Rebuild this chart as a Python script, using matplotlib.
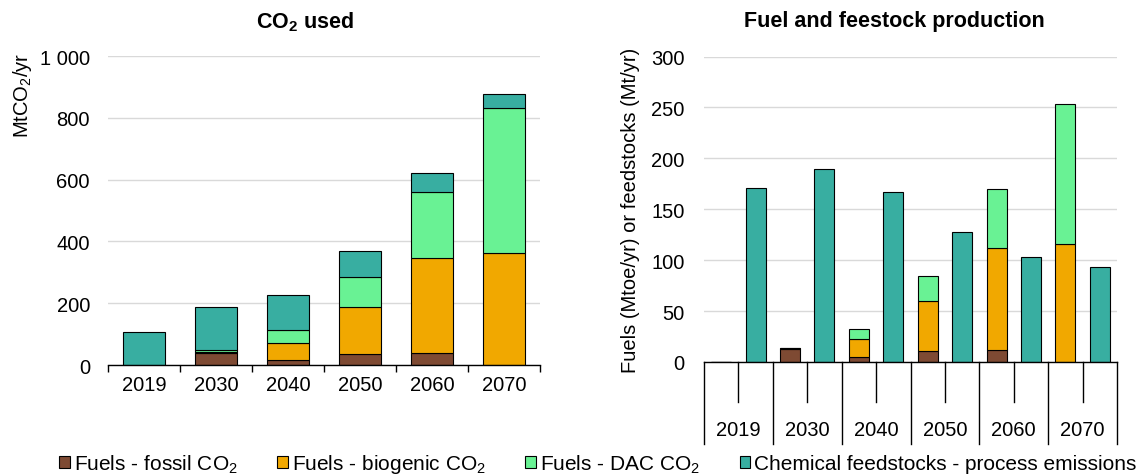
import matplotlib
matplotlib.use("Agg")
import matplotlib.pyplot as plt
from matplotlib.patches import Patch
from matplotlib.ticker import FuncFormatter, FixedLocator
import numpy as np

plt.rcParams["font.family"] = ["Liberation Sans", "DejaVu Sans"]
plt.rcParams["mathtext.fontset"] = "custom"
plt.rcParams["mathtext.rm"] = "Liberation Sans"
plt.rcParams["mathtext.it"] = "Liberation Sans"
plt.rcParams["mathtext.bf"] = "Liberation Sans:bold"
plt.rcParams["mathtext.default"] = "regular"

FS = 14.5

years = ["2019", "2030", "2040", "2050", "2060", "2070"]

# CO2 used (MtCO2/yr)
co2_fossil = [0, 38, 15, 35, 38, 0]
co2_biogenic = [0, 4, 56, 153, 307, 361]
co2_dac = [0, 8, 41, 98, 216, 470]
co2_chem = [108, 139, 115, 84, 60, 46]

# Fuel (Mtoe/yr) and feedstock (Mt/yr) production
prod_fossil = [0, 12.5, 5.2, 10.8, 11.8, 0]
prod_biogenic = [0, 1.5, 17.7, 49.5, 99.7, 116]
prod_dac = [0, 0, 9.2, 24.6, 58.7, 137.8]
prod_chem = [170.5, 189.5, 166.6, 127.9, 103.3, 93.4]

labels = [
    "Fuels - fossil CO$_2$",
    "Fuels - biogenic CO$_2$",
    "Fuels - DAC CO$_2$",
    "Chemical feedstocks - process emissions",
]
colors = ["#7E4A33", "#F1A800", "#69F294", "#38AEA1"]

W, H = 1140, 477
fig = plt.figure(figsize=(W / 100, H / 100), dpi=100)

bar_kw = dict(edgecolor="black", linewidth=0.8, zorder=3)
grid_color = "#D9D9D9"

# ---- left panel: CO2 used ----
ax1 = fig.add_axes([108 / W, 1 - 366 / H, 432 / W, 309 / H])
x = np.arange(len(years))
bottom = np.zeros(len(years))
for vals, col in zip([co2_fossil, co2_biogenic, co2_dac, co2_chem], colors):
    ax1.bar(x, vals, 0.58, bottom=bottom, color=col, **bar_kw)
    bottom += np.array(vals)
ax1.set_xlim(-0.5, len(years) - 0.5)
ax1.set_ylim(0, 1000)
ax1.set_yticks(np.arange(0, 1001, 200))
ax1.yaxis.set_major_formatter(FuncFormatter(lambda v, p: f"{int(v):,}".replace(",", " ")))
ax1.set_xticks(x)
ax1.set_xticklabels(years)
ax1.xaxis.set_minor_locator(FixedLocator(np.arange(-0.5, len(years), 1.0)))
ax1.tick_params(axis="x", which="major", length=0, pad=7, labelsize=FS)
ax1.tick_params(axis="x", which="minor", length=5, width=1, color="black", direction="out")
ax1.tick_params(axis="y", length=0, pad=13, labelsize=FS)
ax1.grid(axis="y", color=grid_color, linewidth=1.0, zorder=0)
for s in ["top", "right", "left"]:
    ax1.spines[s].set_visible(False)
ax1.spines["bottom"].set_linewidth(1.0)
ax1.spines["bottom"].set_zorder(4)
fig.text(23 / W, 1 - 53 / H, "MtCO$_2$/yr", rotation=90, ha="center", va="top", fontsize=FS)
fig.text(305 / W, 1 - 22 / H, "CO$_2$ used", ha="center", va="center", fontsize=15.5,
         fontweight="bold")

# ---- right panel: fuel and feedstock production ----
ax2_h = 305.5
ax2 = fig.add_axes([704 / W, 1 - 363 / H, 413 / W, ax2_h / H])
fuel_pos = 2 * x
chem_pos = 2 * x + 1
bottom = np.zeros(len(years))
for vals, col in zip([prod_fossil, prod_biogenic, prod_dac], colors[:3]):
    ax2.bar(fuel_pos, vals, 0.58, bottom=bottom, color=col, **bar_kw)
    bottom += np.array(vals)
ax2.bar(chem_pos, prod_chem, 0.58, color=colors[3], **bar_kw)
ax2.set_xlim(-0.5, 2 * len(years) - 0.5)
ax2.set_ylim(0, 300)
ax2.set_yticks(np.arange(0, 301, 50))
ax2.set_xticks([])
ax2.tick_params(axis="y", length=0, pad=14, labelsize=FS)
ax2.grid(axis="y", color=grid_color, linewidth=1.0, zorder=0)
for s in ["top", "right", "left"]:
    ax2.spines[s].set_visible(False)
ax2.spines["bottom"].set_linewidth(1.0)
ax2.spines["bottom"].set_zorder(4)

# two-level category axis: inner ticks between bars, long lines between years
trans = ax2.get_xaxis_transform()
inner_len = 40 / ax2_h
group_len = 82 / ax2_h
for i in range(len(years) + 1):
    ax2.plot([2 * i - 0.5] * 2, [0, -group_len], color="black", lw=1.0,
             transform=trans, clip_on=False)
for i, yr in enumerate(years):
    ax2.plot([2 * i + 0.5] * 2, [0, -inner_len], color="black", lw=1.0,
             transform=trans, clip_on=False)
    ax2.text(2 * i + 0.5, -67 / ax2_h, yr, transform=trans, ha="center", va="center", fontsize=FS)

fig.text(630 / W, 1 - 210 / H, "Fuels (Mtoe/yr) or feedstocks (Mt/yr)", rotation=90,
         ha="center", va="center", fontsize=FS)
fig.text(894 / W, 1 - 22 / H, "Fuel and feestock production", ha="center", va="center",
         fontsize=15.5, fontweight="bold")

# ---- legend ----
handles = [Patch(facecolor=c, edgecolor="black", linewidth=0.8) for c in colors]
fig.legend(handles, labels, loc="center", bbox_to_anchor=(0.5245, 1 - 465 / H), ncol=4,
           frameon=False, fontsize=15, handlelength=0.5, handleheight=0.5,
           handletextpad=0.2, columnspacing=1.9, borderpad=0)

fig.savefig("out.png", dpi=100)
